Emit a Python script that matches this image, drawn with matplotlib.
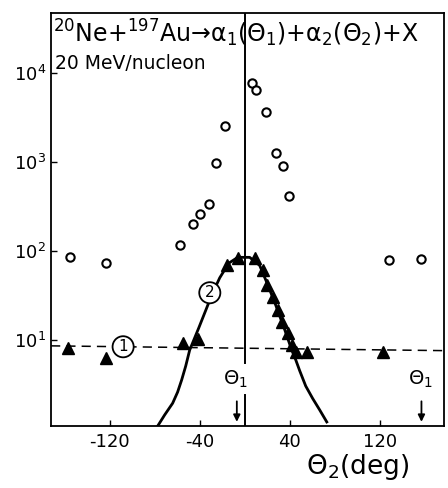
import numpy as np
import matplotlib
matplotlib.use("Agg")
import matplotlib.pyplot as plt

plt.rcParams["mathtext.default"] = "regular"

# open circles (inclusive yield)
circ_theta = [-155.6, -123.6, -57.8, -46.2, -40, -32, -25.8, -17.8,
              6.2, 9.8, 18.7, 27.6, 33.8, 39.1, 128, 156.4]
circ_val = [85, 73, 117, 200, 262, 340, 980, 2530,
            7700, 6400, 3700, 1260, 900, 415, 79, 81]

# filled triangles
tri_theta = [-157, -123.6, -55, -41.8, -16, -6.2, 8.9, 16, 19.6, 24.9,
             29.3, 32.9, 38.2, 41.8, 45.3, 55, 122.7]
tri_val = [8.1, 6.3, 9.3, 10.3, 69, 84, 84, 61, 41.5, 30.5,
           21.7, 15.9, 12, 8.8, 7.3, 7.3, 7.3]

# curve (2)
c2_theta = [-77.3, -71.1, -64, -59.6, -56, -52.4, -48.9, -40.9, -33.8, -29.3,
            -22.2, -14.2, -6.2, 4.4, 13.3, 20.4, 27.6, 35.6, 41.8, 45.3,
            48.9, 54.2, 60.4, 66.7, 72.9]
c2_val = [1.08, 1.44, 1.95, 2.6, 3.56, 5.1, 7.7, 13.6, 22.9, 32,
          50, 73, 85, 85, 69, 42, 24.6, 13, 7.7, 6.0,
          4.5, 3.04, 2.2, 1.63, 1.2]

# dashed line (1)
c1_theta = [-172, 177]
c1_val = [8.6, 7.6]

xticks = [-120, -40, 40, 120]
yticks = [10, 100, 1000, 10000]
ytick_labels = ["$10^1$", "$10^2$", "$10^3$", "$10^4$"]
theta1_marks = [-7, 157]

fig = plt.figure(figsize=(4.48, 4.88), dpi=100)
ax = fig.add_axes([0.114, 0.127, 0.877, 0.846])
ax.set_yscale("log")
ax.set_xlim(-172, 177)
ax.set_ylim(1.08, 47200)

ax.plot(c1_theta, c1_val, color="black", lw=1.1, ls=(0, (6, 4)))
ax.plot(c2_theta, c2_val, color="black", lw=2.0)
ax.plot(circ_theta, circ_val, ls="none", marker="o", ms=6, mfc="white",
        mec="black", mew=1.5)
ax.plot(tri_theta, tri_val, ls="none", marker="^", ms=9, color="black")

# vertical line at 0, broken near the theta1 label
ax.plot([0, 0], [5.5, 47200], color="black", lw=1.4)
ax.plot([0, 0], [1.08, 2.4], color="black", lw=1.4)

for t in theta1_marks:
    ax.text(t - 1, 3.6, r"$\Theta_1$", ha="center", va="center", fontsize=14)
    ax.annotate("", xy=(t, 1.12), xytext=(t, 2.2),
                arrowprops=dict(arrowstyle="-|>", color="black", lw=1.3,
                                mutation_scale=10))

ax.text(-108, 8.4, "1", ha="center", va="center", fontsize=11,
        bbox=dict(boxstyle="circle,pad=0.2", fc="white", ec="black", lw=1.3))
ax.text(-31, 34, "2", ha="center", va="center", fontsize=11,
        bbox=dict(boxstyle="circle,pad=0.2", fc="white", ec="black", lw=1.3))

ax.text(0.005, 0.99,
        r"$^{20}$Ne+$^{197}$Au→$\alpha_1(\Theta_1)$+$\alpha_2(\Theta_2)$+X",
        transform=ax.transAxes, ha="left", va="top", fontsize=17)
ax.text(0.01, 0.878, "20 MeV/nucleon", transform=ax.transAxes,
        ha="left", va="center", fontsize=13.5)

ax.set_xticks(xticks)
ax.set_xticklabels([str(v) for v in xticks], fontsize=13)
ax.set_yticks(yticks)
ax.set_yticklabels(ytick_labels, fontsize=13)
ax.minorticks_off()
ax.tick_params(direction="in", length=4, width=1)
ax.tick_params(axis="x", pad=5)
for s in ax.spines.values():
    s.set_linewidth(1.3)

fig.text(0.915, 0.012, r"$\Theta_2$(deg)", ha="right", va="bottom", fontsize=19)

fig.savefig("out.png", dpi=100)
